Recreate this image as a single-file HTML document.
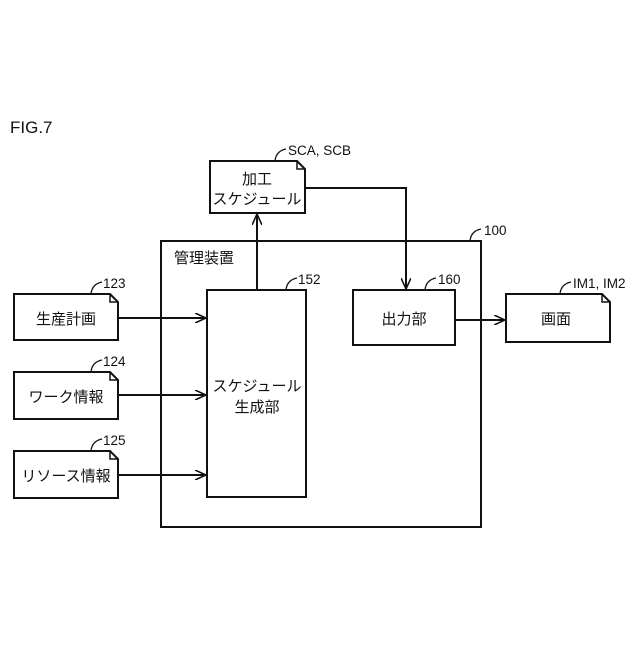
<!DOCTYPE html>
<html><head><meta charset="utf-8"><style>
html,body{margin:0;padding:0;background:#fff}
svg text{font-family:"Liberation Sans","Noto Sans CJK JP",sans-serif;fill:#111}
</style></head><body>
<svg width="640" height="640" viewBox="0 0 640 640" xmlns="http://www.w3.org/2000/svg">
<defs><marker id="a" markerWidth="12" markerHeight="10" refX="11" refY="5" orient="auto" markerUnits="userSpaceOnUse"><path d="M0,0 L11,5 L0,10" fill="none" stroke="#111" stroke-width="1.6"/></marker></defs>
<g fill="none" stroke="#111" stroke-width="2">
<text x="10" y="133" font-size="17" stroke="none">FIG.7</text>
<!-- doc boxes -->
<path d="M210,161 H297 L305,169 V213 H210 Z"/><path d="M297,161 L297,169 L305,169" stroke-width="1.5"/>
<path d="M14,294 H110 L118,302 V340 H14 Z"/><path d="M110,294 V302 H118" stroke-width="1.5"/>
<path d="M14,372 H110 L118,380 V419 H14 Z"/><path d="M110,372 V380 H118" stroke-width="1.5"/>
<path d="M14,451 H110 L118,459 V498 H14 Z"/><path d="M110,451 V459 H118" stroke-width="1.5"/>
<path d="M506,294 H602 L610,302 V342 H506 Z"/><path d="M602,294 V302 H610" stroke-width="1.5"/>
<!-- containers -->
<rect x="161" y="241" width="320" height="286"/>
<rect x="207" y="290" width="99" height="207"/>
<rect x="353" y="290" width="102" height="55"/>
<!-- connectors -->
<path d="M257,290 V214" marker-end="url(#a)"/>
<path d="M305,188 H406 V289" marker-end="url(#a)"/>
<path d="M455,320 H505" marker-end="url(#a)"/>
<path d="M118,318 H206" marker-end="url(#a)"/>
<path d="M118,395 H206" marker-end="url(#a)"/>
<path d="M118,475 H206" marker-end="url(#a)"/>
<!-- leader curves -->
<g stroke-width="1.3">
<path d="M91,294 Q92,284 102,282"/>
<path d="M91,372 Q92,362 102,360"/>
<path d="M91,451 Q92,441 102,439"/>
<path d="M275,161 Q276,151 286,149"/>
<path d="M286,290 Q287,280 297,278"/>
<path d="M470,241 Q471,231 481,229"/>
<path d="M425,290 Q426,280 436,278"/>
<path d="M560,294 Q561,284 571,282"/>
</g>
</g>
<g font-size="13.5">
<text x="103" y="288">123</text>
<text x="103" y="366">124</text>
<text x="103" y="445">125</text>
<text x="288" y="155">SCA, SCB</text>
<text x="298" y="284">152</text>
<text x="484" y="235">100</text>
<text x="438" y="284">160</text>
<text x="573" y="288">IM1, IM2</text>
</g>
<g font-size="15" text-anchor="middle">
<text x="66" y="324">生産計画</text>
<text x="66" y="402">ワーク情報</text>
<text x="66" y="481">リソース情報</text>
<text x="257" y="184">加工</text>
<text x="257" y="204">スケジュール</text>
<text x="257" y="391">スケジュール</text>
<text x="257" y="412">生成部</text>
<text x="404" y="324">出力部</text>
<text x="556" y="324">画面</text>
<text x="204" y="263">管理装置</text>
</g>
</svg>
</body></html>
